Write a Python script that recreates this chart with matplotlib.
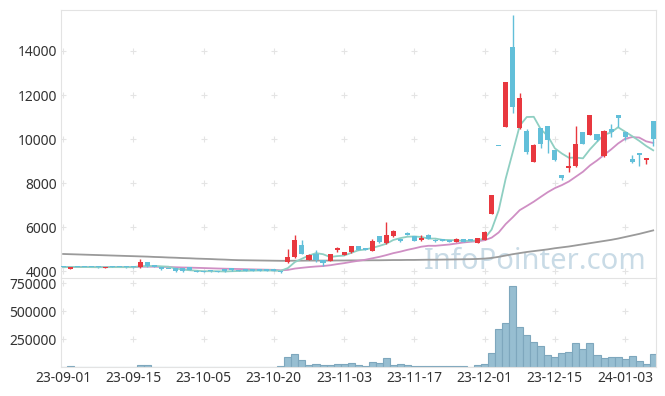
import matplotlib.pyplot as plt
import numpy as np
import pandas as pd

plt.rcParams['font.family'] = ['Noto Sans', 'DejaVu Sans']

# tick labels every 10 trading days
tick_labels = ['23-09-01', '23-09-15', '23-10-05', '23-10-20', '23-11-03',
               '23-11-17', '23-12-01', '23-12-15', '24-01-03']

# daily OHLC (85 trading days, 23-09-01 .. 24-01-09)
open_ = [4210, 4120, 4200, 4195, 4200, 4190, 4150, 4210, 4200, 4190,
         4185, 4180, 4420, 4240, 4210, 4120, 4150, 4150, 4180, 4030,
         4000, 4020, 4030, 4110, 4150, 4030, 4120, 4120, 4050, 4120,
         4110, 4010, 4420, 4650, 5180, 4530, 4790, 4500, 4470, 4990,
         4760, 4860, 5140, 5040, 4940, 5590, 5270, 5590, 5430, 5760,
         5600, 5420, 5670, 5430, 5460, 5420, 5350, 5480, 5410, 5290,
         5440, 6620, 9680, 10560, 14200, 10490, 10360, 8970, 10490, 10590,
         9500, 8360, 8700, 8770, 10320, 10210, 10230, 9230, 10440, 11090,
         10320, 9120, 9330, 9050, 10820]
high = [4220, 4220, 4210, 4210, 4210, 4200, 4220, 4230, 4210, 4200,
        4200, 4550, 4430, 4260, 4220, 4130, 4160, 4160, 4190, 4060,
        4030, 4040, 4040, 4120, 4160, 4050, 4130, 4130, 4060, 4130,
        4120, 4030, 5030, 5640, 5440, 4780, 4985, 4520, 4790, 5090,
        4900, 5160, 5160, 5060, 5490, 5600, 6240, 5860, 5440, 5800,
        5620, 5640, 5690, 5450, 5480, 5430, 5500, 5490, 5410, 5520,
        5830, 7460, 9680, 12600, 15640, 12080, 10440, 9780, 10500, 10600,
        9520, 8370, 9420, 10590, 10330, 11100, 10250, 10420, 10710, 11100,
        10330, 9270, 9330, 9150, 10830]
low = [4180, 4110, 4190, 4180, 4180, 4170, 4140, 4190, 4180, 4170,
       4170, 4170, 4220, 4200, 4080, 4100, 3990, 3990, 4050, 3950,
       3980, 3990, 3960, 3990, 4040, 4010, 4020, 4030, 4020, 4030,
       4030, 3940, 4400, 4620, 4780, 4510, 4425, 4240, 4450, 4880,
       4740, 4840, 4950, 4950, 4920, 5310, 5250, 5560, 5320, 5650,
       5380, 5400, 5450, 5320, 5370, 5340, 5340, 5320, 5400, 5280,
       5420, 6600, 9680, 10540, 11170, 10440, 9330, 8960, 9620, 9380,
       9030, 8150, 8510, 8740, 9760, 10190, 9930, 9210, 10100, 10560,
       9950, 8940, 8800, 8860, 9680]
close = [4190, 4210, 4195, 4190, 4185, 4180, 4210, 4200, 4190, 4185,
         4180, 4420, 4230, 4220, 4090, 4110, 4000, 4000, 4060, 3990,
         3990, 4000, 3990, 4010, 4050, 4030, 4040, 4040, 4040, 4040,
         4040, 3990, 4640, 5410, 4800, 4760, 4530, 4400, 4770, 5010,
         4880, 5140, 4970, 4970, 5360, 5330, 5640, 5820, 5400, 5670,
         5400, 5510, 5470, 5390, 5390, 5350, 5450, 5330, 5400, 5510,
         5790, 7450, 9680, 12600, 11470, 11850, 9420, 9730, 9770, 9950,
         9050, 8240, 8770, 9800, 9790, 11090, 9950, 10360, 10330, 10970,
         10080, 8950, 9300, 9150, 9990]
volume = [0, 6000, 0, 0, 0, 0, 0, 0, 0, 0,
          0, 15000, 15000, 0, 0, 0, 0, 0, 0, 0,
          0, 0, 0, 0, 0, 0, 0, 0, 0, 0,
          0, 5000, 87000, 113000, 62000, 18000, 24000, 17000, 15000, 24000,
          24000, 33000, 15000, 6000, 42000, 33000, 77000, 15000, 24000, 15000,
          6000, 6000, 6000, 6000, 6000, 6000, 6000, 6000, 0, 15000,
          24000, 122000, 336000, 390000, 723000, 360000, 283000, 220000, 185000, 104000,
          86000, 122000, 134000, 211000, 158000, 211000, 104000, 77000, 86000, 86000,
          68000, 95000, 51000, 24000, 113000]
# long moving average (needs history before the window)
ma120 = [4790, 4780, 4770, 4760, 4750, 4740, 4730, 4720, 4710, 4700,
         4690, 4680, 4670, 4655, 4645, 4630, 4620, 4605, 4595, 4580,
         4570, 4560, 4545, 4535, 4520, 4510, 4505, 4500, 4495, 4490,
         4485, 4480, 4480, 4485, 4485, 4490, 4490, 4490, 4490, 4495,
         4495, 4500, 4500, 4500, 4505, 4505, 4510, 4515, 4515, 4520,
         4520, 4525, 4530, 4530, 4535, 4540, 4545, 4550, 4555, 4565,
         4580, 4610, 4660, 4720, 4780, 4830, 4880, 4920, 4960, 5000,
         5050, 5090, 5130, 5180, 5230, 5280, 5330, 5380, 5430, 5490,
         5560, 5630, 5700, 5780, 5860]

df = pd.DataFrame({'open': open_, 'high': high, 'low': low,
                   'close': close, 'volume': volume, 'ma120': ma120})
df['ma5'] = df['close'].rolling(5, min_periods=1).mean()
df['ma20'] = df['close'].rolling(20, min_periods=1).mean()
x = np.arange(len(df))

UP = '#e8383f'
DOWN = '#62bfd9'
GRID = '#e4e4e4'
SPINE = '#e3e3e3'

fig = plt.figure(figsize=(6.65, 3.96), dpi=100)
ax = fig.add_axes([61 / 665, 1 - 278 / 396, 595 / 665, 268 / 396])
axv = fig.add_axes([61 / 665, 1 - 367 / 396, 595 / 665, 89 / 396], sharex=ax)

xticks = np.arange(0, len(df), 10)
ax.set_xlim(-0.3, 84.4)
ax.set_ylim(3700, 15860)
axv.set_ylim(0, 795000)

# watermark
ax.text(0.984, 0.035, 'InfoPointer.com', transform=ax.transAxes, ha='right',
        va='baseline', fontsize=21, color='#c9dbe6', zorder=0)

# grid as small plus marks
pyt = [4000, 6000, 8000, 10000, 12000, 14000]
gx, gy = np.meshgrid(xticks, pyt)
ax.plot(gx.ravel(), gy.ravel(), ls='none', marker='+', ms=4, mew=0.8,
        color=GRID, zorder=0.5)
vyt = [250000, 500000, 750000]
gx, gy = np.meshgrid(xticks, vyt)
axv.plot(gx.ravel(), gy.ravel(), ls='none', marker='+', ms=4, mew=0.8,
         color=GRID, zorder=0.5)

# moving averages
ax.plot(x, df['ma120'], color='#9a9a9a', lw=1.3, zorder=1)
ax.plot(x, df['ma20'], color='#cf8fc4', lw=1.3, zorder=1)
ax.plot(x, df['ma5'], color='#8fcfc2', lw=1.3, zorder=1)

# candles
up = df['close'] > df['open']
colors = np.where(up, UP, DOWN)
ax.vlines(x, df['low'], df['high'], colors=colors, lw=1, zorder=2)
body_low = np.minimum(df['open'], df['close'])
body_h = np.maximum(np.abs(df['close'] - df['open']), 50)
ax.bar(x, body_h, bottom=body_low, width=0.72, color=colors, lw=0, zorder=3)

# volume
axv.bar(x, df['volume'], width=1.0, color='#97bed1', edgecolor='#7ea7bd',
        lw=0.8, zorder=2)

for a in (ax, axv):
    for s in a.spines.values():
        s.set_color(SPINE)
    a.tick_params(length=0, labelsize=10, colors='#333333', pad=3)
ax.spines['bottom'].set_visible(False)
ax.set_yticks(pyt)
ax.tick_params(labelbottom=False)
axv.set_yticks(vyt)
axv.set_xticks(xticks)
axv.set_xticklabels(tick_labels)

fig.savefig('out.png', dpi=100)
